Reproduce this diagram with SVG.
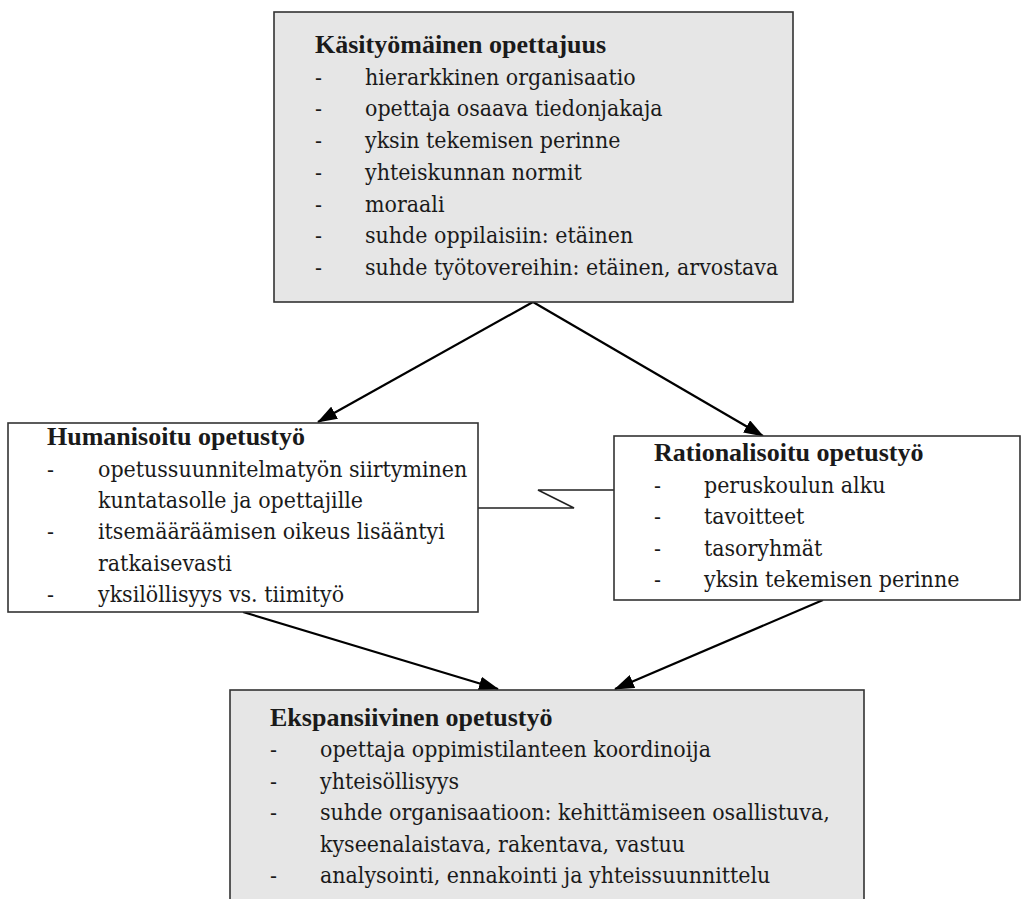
<svg xmlns="http://www.w3.org/2000/svg" width="1022" height="899" viewBox="0 0 1022 899">
<style>
.box{stroke:#333;stroke-width:1.6}
.grey{fill:#e6e6e6}
.white{fill:#fff}
text{font-family:"DejaVu Serif Condensed","DejaVu Serif",serif;font-stretch:condensed;font-size:22.9px;fill:#1a1a1a}
text.t{font-family:"Liberation Serif","Times New Roman",serif;font-stretch:normal;font-size:26px;font-weight:bold}
.conn{stroke:#000;stroke-width:2.2;fill:none}
</style>
<defs>
<marker id="ah" markerUnits="userSpaceOnUse" markerWidth="20" markerHeight="14" refX="19" refY="7" orient="auto">
<path d="M0,0 L20,7 L0,14 z" fill="#000"/>
</marker>
</defs>
<rect width="1022" height="899" fill="#fff"/>
<g id="connectors">
<line class="conn" x1="533" y1="302" x2="318" y2="422" marker-end="url(#ah)"/>
<line class="conn" x1="533" y1="302" x2="763" y2="436" marker-end="url(#ah)"/>
<line class="conn" x1="243" y1="612" x2="498" y2="689" marker-end="url(#ah)"/>
<line class="conn" x1="823" y1="600" x2="615" y2="689" marker-end="url(#ah)"/>
<path d="M478,508 H574 L538,490 H614" fill="none" stroke="#222" stroke-width="1.6"/>
</g>
<g id="kasityomainen">
<rect class="box grey" x="274" y="12" width="519" height="290"/>
<text class="t" x="315" y="53">Käsityömäinen opettajuus</text>
<text x="315" y="85">-</text><text x="365" y="85">hierarkkinen organisaatio</text>
<text x="315" y="116">-</text><text x="365" y="116">opettaja osaava tiedonjakaja</text>
<text x="315" y="148">-</text><text x="365" y="148">yksin tekemisen perinne</text>
<text x="315" y="180">-</text><text x="365" y="180">yhteiskunnan normit</text>
<text x="315" y="212">-</text><text x="365" y="212">moraali</text>
<text x="315" y="243">-</text><text x="365" y="243">suhde oppilaisiin: etäinen</text>
<text x="315" y="275">-</text><text x="365" y="275">suhde työtovereihin: etäinen, arvostava</text>
</g>
<g id="humanisoitu">
<rect class="box white" x="8" y="423" width="470" height="189"/>
<text class="t" x="47" y="445">Humanisoitu opetustyö</text>
<text x="47" y="477">-</text><text x="98" y="477">opetussuunnitelmatyön siirtyminen</text>
<text x="98" y="508">kuntatasolle ja opettajille</text>
<text x="47" y="539">-</text><text x="98" y="539">itsemääräämisen oikeus lisääntyi</text>
<text x="98" y="571">ratkaisevasti</text>
<text x="47" y="602">-</text><text x="98" y="602">yksilöllisyys vs. tiimityö</text>
</g>
<g id="rationalisoitu">
<rect class="box white" x="614" y="436" width="406" height="164"/>
<text class="t" x="654" y="461">Rationalisoitu opetustyö</text>
<text x="654" y="493">-</text><text x="704" y="493">peruskoulun alku</text>
<text x="654" y="524">-</text><text x="704" y="524">tavoitteet</text>
<text x="654" y="556">-</text><text x="704" y="556">tasoryhmät</text>
<text x="654" y="587">-</text><text x="704" y="587">yksin tekemisen perinne</text>
</g>
<g id="ekspansiivinen">
<rect class="box grey" x="230" y="690" width="634" height="230"/>
<text class="t" x="270" y="726">Ekspansiivinen opetustyö</text>
<text x="270" y="757">-</text><text x="320" y="757">opettaja oppimistilanteen koordinoija</text>
<text x="270" y="789">-</text><text x="320" y="789">yhteisöllisyys</text>
<text x="270" y="820">-</text><text x="320" y="820">suhde organisaatioon: kehittämiseen osallistuva,</text>
<text x="320" y="852">kyseenalaistava, rakentava, vastuu</text>
<text x="270" y="883">-</text><text x="320" y="883">analysointi, ennakointi ja yhteissuunnittelu</text>
</g>
</svg>
